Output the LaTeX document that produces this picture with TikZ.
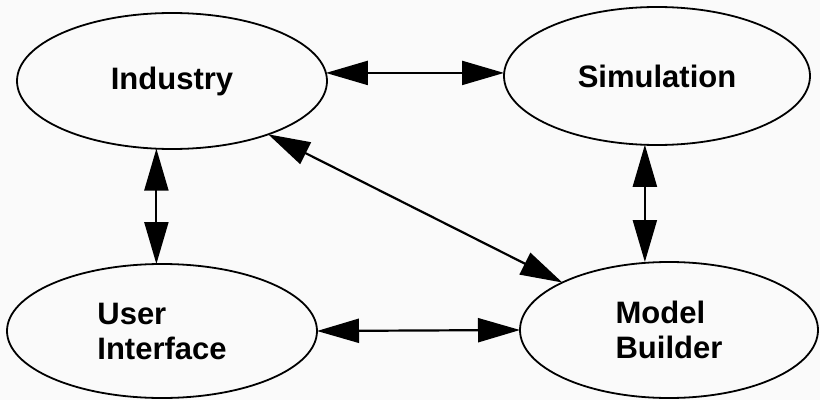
\documentclass[tikz,border=0pt]{standalone}
\usepackage{fontspec}
\setmainfont{Liberation Sans}
\usetikzlibrary{arrows.meta,shapes.geometric}

\definecolor{paper}{RGB}{250,250,250}

\tikzset{
  bubble/.style={draw, ellipse, line width=1.8pt, inner sep=0pt, outer sep=0pt,
    font=\bfseries\fontsize{31}{35}\selectfont, align=left},
  link/.style={line width=2.2pt,
    {Triangle[length=42pt,width=24pt]}-{Triangle[length=42pt,width=24pt]}}
}

\begin{document}
\begin{tikzpicture}[x=1pt,y=1pt]
  % page: 820 x 400
  \fill[paper] (0,0) rectangle (820,400);
  \useasboundingbox (0,0) rectangle (820,400);

  % the four components
  \node[bubble, minimum width=310pt, minimum height=136pt] (ind) at (172,319) {Industry};
  \node[bubble, minimum width=306pt, minimum height=138pt] (sim) at (657,324) {Simulation};
  \node[bubble, minimum width=310pt, minimum height=134pt] (ui)  at (162,69)  {User\\Interface};
  \node[bubble, minimum width=298pt, minimum height=136pt] (mb)  at (669,70)  {Model\\Builder};

  % two-way links between them
  \draw[link] (ind.3) -- (ind.3 -| sim.west);
  \draw[link] (ind.257) -- (ind.257 |- ui.north);
  \draw[link] (sim.260) -- (sim.260 |- mb.north);
  \draw[link] (ind.-29) -- (mb.156);
  \draw[link] (ui.east) -- (mb.west);
\end{tikzpicture}
\end{document}
